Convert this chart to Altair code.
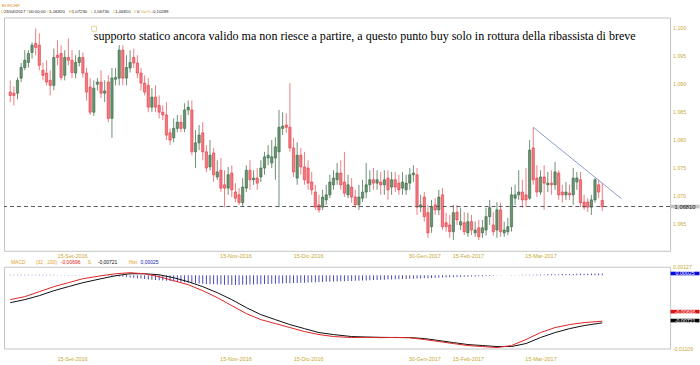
import altair as alt
import pandas as pd

# ---------------- data ----------------
opens = [1.0886,1.0884,1.0884,1.0911,1.0930,1.0939,1.0957,1.0973,1.0970,1.0925,
         1.0920,1.0907,1.0898,1.0952,1.0955,1.0916,1.0948,1.0943,1.0920,1.0939,
         1.0948,1.0920,1.0895,1.0850,1.0900,1.0904,1.0884,1.0904,1.0839,1.0909,
         1.0911,1.0961,1.0911,1.0929,1.0948,1.0938,1.0920,1.0902,1.0898,1.0859,
         1.0877,1.0862,1.0850,1.0845,1.0813,1.0804,1.0821,1.0832,1.0821,1.0854,
         1.0854,1.0779,1.0795,1.0813,1.0779,1.0752,1.0777,1.0734,1.0746,1.0720,
         1.0714,1.0741,1.0707,1.0702,1.0688,1.0714,1.0746,1.0729,1.0732,1.0734,
         1.0750,1.0768,1.0759,1.0768,1.0779,1.0821,1.0827,1.0823,1.0786,1.0732,
         1.0773,1.0752,1.0750,1.0725,1.0707,1.0684,1.0680,1.0693,1.0702,1.0720,
         1.0729,1.0741,1.0725,1.0702,1.0716,1.0698,1.0684,1.0696,1.0707,1.0720,
         1.0729,1.0723,1.0725,1.0720,1.0732,1.0716,1.0729,1.0723,1.0714,1.0711,
         1.0723,1.0738,1.0738,1.0680,1.0698,1.0670,1.0645,1.0684,1.0675,1.0702,
         1.0652,1.0648,1.0636,1.0671,1.0648,1.0652,1.0634,1.0654,1.0634,1.0643,
         1.0634,1.0639,1.0663,1.0648,1.0639,1.0675,1.0634,1.0636,1.0645,1.0696,
         1.0702,1.0707,1.0702,1.0696,1.0786,1.0732,1.0707,1.0734,1.0720,1.0723,
         1.0720,1.0741,1.0707,1.0702,1.0705,1.0702,1.0725,1.0729,1.0689,1.0689,
         1.0680,1.0693,1.0720,1.0692]
highs = [1.0907,1.0896,1.0912,1.0938,1.0961,1.0961,1.0975,1.1000,1.0991,1.0939,
         1.0943,1.0925,1.0964,1.0979,1.0970,1.0961,1.0982,1.0961,1.0952,1.0961,
         1.0957,1.0929,1.0911,1.0907,1.0911,1.0925,1.0907,1.0916,1.0929,1.0929,
         1.0970,1.0970,1.0952,1.0961,1.0964,1.0952,1.0929,1.0916,1.0911,1.0893,
         1.0898,1.0880,1.0862,1.0868,1.0821,1.0839,1.0845,1.0845,1.0866,1.0871,
         1.0871,1.0818,1.0827,1.0832,1.0791,1.0800,1.0786,1.0764,1.0768,1.0746,
         1.0752,1.0755,1.0723,1.0714,1.0732,1.0755,1.0764,1.0746,1.0750,1.0764,
         1.0779,1.0791,1.0800,1.0805,1.0854,1.0850,1.0848,1.0902,1.0804,1.0796,
         1.0786,1.0779,1.0764,1.0743,1.0720,1.0702,1.0711,1.0720,1.0738,1.0746,
         1.0759,1.0764,1.0779,1.0738,1.0732,1.0711,1.0720,1.0729,1.0759,1.0746,
         1.0750,1.0746,1.0743,1.0746,1.0746,1.0743,1.0743,1.0738,1.0743,1.0738,
         1.0750,1.0755,1.0750,1.0702,1.0707,1.0684,1.0693,1.0696,1.0711,1.0714,
         1.0670,1.0666,1.0684,1.0684,1.0679,1.0671,1.0670,1.0666,1.0654,1.0657,
         1.0657,1.0679,1.0693,1.0671,1.0689,1.0688,1.0654,1.0661,1.0716,1.0720,
         1.0746,1.0729,1.0750,1.0800,1.0823,1.0755,1.0746,1.0755,1.0743,1.0746,
         1.0761,1.0746,1.0720,1.0725,1.0720,1.0750,1.0743,1.0743,1.0702,1.0696,
         1.0702,1.0732,1.0729,1.0723]
lows = [1.0868,1.0862,1.0873,1.0904,1.0925,1.0930,1.0946,1.0952,1.0925,1.0907,
        1.0898,1.0880,1.0889,1.0934,1.0907,1.0907,1.0934,1.0911,1.0911,1.0932,
        1.0912,1.0871,1.0845,1.0843,1.0889,1.0875,1.0868,1.0832,1.0804,1.0898,
        1.0898,1.0898,1.0898,1.0921,1.0929,1.0911,1.0889,1.0880,1.0850,1.0850,
        1.0850,1.0839,1.0836,1.0800,1.0791,1.0796,1.0814,1.0814,1.0814,1.0845,
        1.0773,1.0750,1.0782,1.0764,1.0743,1.0746,1.0725,1.0729,1.0707,1.0680,
        1.0702,1.0698,1.0689,1.0684,1.0682,1.0707,1.0711,1.0720,1.0711,1.0725,
        1.0738,1.0755,1.0750,1.0729,1.0680,1.0809,1.0813,1.0779,1.0734,1.0720,
        1.0738,1.0720,1.0711,1.0702,1.0675,1.0670,1.0675,1.0684,1.0696,1.0711,
        1.0720,1.0711,1.0698,1.0696,1.0688,1.0679,1.0675,1.0689,1.0696,1.0707,
        1.0711,1.0711,1.0702,1.0702,1.0693,1.0702,1.0707,1.0702,1.0702,1.0702,
        1.0711,1.0725,1.0666,1.0671,1.0654,1.0625,1.0634,1.0666,1.0666,1.0639,
        1.0636,1.0625,1.0621,1.0648,1.0639,1.0630,1.0627,1.0630,1.0627,1.0621,
        1.0625,1.0629,1.0648,1.0629,1.0625,1.0627,1.0627,1.0630,1.0636,1.0684,
        1.0693,1.0679,1.0680,1.0693,1.0720,1.0698,1.0702,1.0675,1.0707,1.0702,
        1.0711,1.0693,1.0688,1.0693,1.0693,1.0684,1.0711,1.0680,1.0675,1.0671,
        1.0666,1.0688,1.0696,1.0673]
closes = [1.0880,1.0880,1.0907,1.0930,1.0943,1.0955,1.0970,1.0966,1.0934,1.0916,
          1.0904,1.0898,1.0948,1.0948,1.0912,1.0948,1.0943,1.0921,1.0939,1.0948,
          1.0920,1.0886,1.0850,1.0893,1.0904,1.0884,1.0888,1.0839,1.0911,1.0912,
          1.0961,1.0911,1.0930,1.0939,1.0938,1.0920,1.0902,1.0886,1.0859,1.0877,
          1.0859,1.0850,1.0845,1.0809,1.0800,1.0821,1.0832,1.0821,1.0854,1.0859,
          1.0779,1.0795,1.0809,1.0779,1.0750,1.0773,1.0738,1.0743,1.0714,1.0714,
          1.0738,1.0711,1.0696,1.0688,1.0716,1.0746,1.0729,1.0732,1.0723,1.0750,
          1.0770,1.0773,1.0770,1.0788,1.0823,1.0825,1.0823,1.0786,1.0743,1.0773,
          1.0752,1.0729,1.0723,1.0711,1.0680,1.0675,1.0698,1.0702,1.0725,1.0732,
          1.0741,1.0720,1.0705,1.0720,1.0698,1.0684,1.0698,1.0707,1.0720,1.0729,
          1.0723,1.0729,1.0720,1.0729,1.0711,1.0729,1.0716,1.0711,1.0725,1.0723,
          1.0738,1.0741,1.0680,1.0684,1.0663,1.0634,1.0680,1.0675,1.0698,1.0645,
          1.0645,1.0636,1.0670,1.0657,1.0654,1.0636,1.0654,1.0639,1.0639,1.0627,
          1.0643,1.0663,1.0679,1.0636,1.0675,1.0636,1.0639,1.0645,1.0702,1.0702,
          1.0707,1.0693,1.0693,1.0782,1.0729,1.0707,1.0734,1.0723,1.0723,1.0720,
          1.0743,1.0702,1.0702,1.0707,1.0702,1.0732,1.0732,1.0688,1.0680,1.0680,
          1.0693,1.0729,1.0707,1.0681]

tick_idx = [17, 62, 82, 114, 126, 146]
tick_labels = ["15-Set-2016", "15-Nov-2016", "15-Dic-2016",
               "30-Gen-2017", "15-Feb-2017", "15-Mar-2017"]
price_ticks = [1.065, 1.070, 1.075, 1.080, 1.085, 1.090, 1.095, 1.100]
last_close = 1.0681

trend_idx = [144, 168.3]
trend_price = [1.0823, 1.0695]

macd_idx = [0, 4, 8, 12, 16, 20, 25, 29, 33, 37, 41, 45, 49, 53, 57, 61, 65, 69, 73, 77,
            81, 85, 89, 94, 98, 102, 106, 110, 114, 118, 122, 126, 130, 134, 138, 142,
            146, 150, 154, 158, 163]
macd_vals = [-0.00370, -0.00325, -0.00250, -0.00174, -0.00114, -0.00054, -0.00009, 0.00021,
             0.00037, 0.00021, -0.00024, -0.00084, -0.00144, -0.00235, -0.00340, -0.00461,
             -0.00581, -0.00672, -0.00732, -0.00792, -0.00853, -0.00898, -0.00928, -0.00943,
             -0.00940, -0.00945, -0.00941, -0.00946, -0.00973, -0.01004, -0.01034, -0.01064,
             -0.01079, -0.01094, -0.01064, -0.00973, -0.00868, -0.00792, -0.00747, -0.00717,
             -0.00696]
signal_vals = [-0.00416, -0.00370, -0.00310, -0.00235, -0.00174, -0.00114, -0.00054, -0.00009,
               0.00021, 0.00021, 0.00006, -0.00039, -0.00099, -0.00174, -0.00265, -0.00370,
               -0.00491, -0.00597, -0.00672, -0.00747, -0.00808, -0.00868, -0.00898, -0.00928,
               -0.00935, -0.00940, -0.00943, -0.00944, -0.00958, -0.00988, -0.01019, -0.01049,
               -0.01064, -0.01079, -0.01079, -0.01034, -0.00943, -0.00868, -0.00808, -0.00762,
               -0.00721]
hist_vals = [0.00006, 0.00006, 0.00007, 0.00007, 0.00008, 0.00008, 0.00008, 0.00007, 0.00007, 0.00006,
             0.00006, 0.00005, 0.00005, 0.00004, 0.00004, 0.00003, 0.00003, 0.00002, 0.00002, 0.00001,
             0.00001, 0.00000, 0.00000, -0.00001, -0.00002, -0.00003, -0.00005, -0.00008, -0.00012, -0.00016,
             -0.00020, -0.00025, -0.00030, -0.00035, -0.00040, -0.00046, -0.00052, -0.00058, -0.00064, -0.00070,
             -0.00072, -0.00076, -0.00080, -0.00084, -0.00088, -0.00093, -0.00098, -0.00103, -0.00108, -0.00113,
             -0.00118, -0.00122, -0.00126, -0.00130, -0.00133, -0.00136, -0.00139, -0.00141, -0.00143, -0.00145,
             -0.00146, -0.00147, -0.00147, -0.00147, -0.00146, -0.00145, -0.00143, -0.00141, -0.00139, -0.00137,
             -0.00135, -0.00133, -0.00131, -0.00129, -0.00127, -0.00125, -0.00123, -0.00121, -0.00119, -0.00117,
             -0.00115, -0.00113, -0.00111, -0.00109, -0.00107, -0.00105, -0.00103, -0.00101, -0.00099, -0.00097,
             -0.00095, -0.00093, -0.00091, -0.00089, -0.00087, -0.00085, -0.00083, -0.00081, -0.00079, -0.00077,
             -0.00075, -0.00073, -0.00071, -0.00069, -0.00067, -0.00065, -0.00063, -0.00061, -0.00059, -0.00057,
             -0.00055, -0.00053, -0.00051, -0.00049, -0.00047, -0.00045, -0.00043, -0.00041, -0.00039, -0.00037,
             -0.00035, -0.00033, -0.00031, -0.00029, -0.00027, -0.00025, -0.00023, -0.00021, -0.00019, -0.00017,
             -0.00015, -0.00013, -0.00011, -0.00009, -0.00007, -0.00005, -0.00003, -0.00001, 0.00001, 0.00003,
             0.00004, 0.00005, 0.00006, 0.00007, 0.00008, 0.00009, 0.00010, 0.00011, 0.00012, 0.00013,
             0.00014, 0.00015, 0.00016, 0.00017, 0.00018, 0.00019, 0.00020, 0.00021, 0.00022, 0.00023,
             0.00024, 0.00024, 0.00025, 0.00025]
macd_last, signal_last, hist_last = -0.00696, -0.00721, 0.00025
macd_top, macd_bottom = 0.00127, -0.01109

note = ("supporto statico ancora valido ma non riesce a partire, a questo punto buy "
        "solo in rottura della ribassista di breve")

# ---------------- layout constants ----------------
W, H1, H2 = 668, 234, 82
XDOM = [-0.35, 180.3]
AXC = "#c9a832"
SANS = "Liberation Sans"

n = len(opens)
df = pd.DataFrame({"i": list(range(n)), "open": opens, "high": highs,
                   "low": lows, "close": closes})
df["dir"] = ["up" if c >= o else "down" for o, c in zip(opens, closes)]

expr = "''"
for t, l in reversed(list(zip(tick_idx, tick_labels))):
    expr = f"datum.value == {t} ? '{l}' : ({expr})"

xscale = alt.Scale(domain=XDOM, nice=False, zero=False)


def xaxis(pad):
    return alt.Axis(values=tick_idx, labelExpr=expr, ticks=False, domain=False,
                    grid=False, labelFontSize=5.5, labelColor=AXC, labelFont=SANS,
                    labelPadding=pad, labelOverlap=False, labelFlush=False, title=None)


yscale = alt.Scale(domain=[1.06018, 1.10196], nice=False, zero=False)

cscale = alt.Scale(domain=["up", "down"], range=["#2f6a3a", "#e8343e"])
wscale = alt.Scale(domain=["up", "down"], range=["#6f9077", "#ee7d84"])

base = alt.Chart(df)
wicks = base.mark_rule(strokeWidth=1).encode(
    x=alt.X("i:Q", scale=xscale, axis=xaxis(3)),
    y=alt.Y("low:Q", scale=yscale, axis=None),
    y2="high:Q",
    color=alt.Color("dir:N", scale=wscale, legend=None),
)
bodies = base.mark_bar(size=2.3, strokeWidth=0.6).encode(
    x="i:Q", y="open:Q", y2="close:Q",
    color=alt.Color("dir:N", scale=cscale, legend=None),
    stroke=alt.Stroke("dir:N", scale=cscale, legend=None),
)

# right-hand price labels
plab = pd.DataFrame({"v": price_ticks,
                     "t": [f"{v:.3f}".replace(".", ",") for v in price_ticks]})
plabels = alt.Chart(plab).mark_text(align="left", baseline="middle", fontSize=5.2,
                                    font=SANS, color=AXC).encode(
    x=alt.value(W + 3), y="v:Q", text="t:N")

dash = alt.Chart(pd.DataFrame({"v": [last_close]})).mark_rule(
    color="#5a5a5a", strokeDash=[4, 3], strokeWidth=1.1).encode(y="v:Q")

trend = alt.Chart(pd.DataFrame({"i": trend_idx, "p": trend_price})).mark_line(
    color="#8b9bd2", strokeWidth=1).encode(x="i:Q", y="p:Q")

RECT = "M-1,-0.125L1,-0.125L1,0.125L-1,0.125Z"
one = pd.DataFrame({"v": [last_close], "t": ["1,06810"]})
lbox = alt.Chart(one).mark_point(shape=RECT, filled=True, fill="#c4c4c4",
                                 opacity=1, size=841, strokeWidth=0).encode(
    x=alt.value(W + 15), y="v:Q")
ltxt = alt.Chart(one).mark_text(fontSize=5.8, font=SANS, color="#111").encode(
    x=alt.value(W + 15), y="v:Q", text="t:N")

note_t = alt.Chart(pd.DataFrame({"t": [note]})).mark_text(
    align="left", baseline="alphabetic", font="Liberation Serif", fontSize=12.1,
    color="#000").encode(x=alt.value(90), y=alt.value(23), text="t:N")
sq = alt.Chart(pd.DataFrame({"a": [0]})).mark_square(
    filled=False, stroke="#dcc878", strokeWidth=1, size=25).encode(
    x=alt.value(90.3), y=alt.value(11.3))

# header pieces: (text, colour, x, y) in plot pixels
LET = "#e0a52a"
header = [("EURCHF", "#e08a10", -2, -12),
          ("D", LET, -3, -5), ("23/04/2017", "#222", 0, -5),
          ("T", LET, 22.5, -5), ("00:00:00", "#222", 25, -5),
          ("O", LET, 43, -5), ("1,06920", "#222", 45.5, -5),
          ("H", LET, 65, -5), ("1,07230", "#222", 68, -5),
          ("L", LET, 87, -5), ("1,06730", "#222", 90, -5),
          ("C", LET, 109, -5), ("1,06810", "#222", 111.5, -5),
          ("V", LET, 130, -5), ("0", "#222", 133.5, -5),
          ("Var%", LET, 137, -5), ("-0,10289", "#222", 148, -5)]
hdr_layers = []
for t, c, x, y in header:
    hdr_layers.append(alt.Chart(pd.DataFrame({"t": [t]})).mark_text(
        align="left", baseline="middle", fontSize=4.3, font=SANS, color=c).encode(
        x=alt.value(x), y=alt.value(y), text="t:N"))

main = alt.layer(wicks, bodies, dash, trend, plabels, lbox, ltxt, note_t, sq,
                 *hdr_layers).properties(width=W, height=H1)

# ---------------- MACD ----------------
mh = pd.DataFrame({"i": list(range(n)), "h": hist_vals})
mm = pd.DataFrame({"i": macd_idx, "m": macd_vals, "s": signal_vals})
myscale = alt.Scale(domain=[macd_bottom, macd_top], nice=False, zero=False)

hist = alt.Chart(mh).mark_bar(size=0.9, color="#3838b0").encode(
    x=alt.X("i:Q", scale=xscale, axis=xaxis(8)),
    y=alt.Y("h:Q", scale=myscale, axis=None),
    y2=alt.datum(0),
)
mline = alt.Chart(mm).mark_line(color="#e02424", strokeWidth=1).encode(x="i:Q", y="m:Q")
sline = alt.Chart(mm).mark_line(color="#101010", strokeWidth=1).encode(x="i:Q", y="s:Q")

mlab = pd.DataFrame({"v": [macd_top, macd_bottom],
                     "t": [f"{v:.5f}".replace(".", ",") for v in [macd_top, macd_bottom]]})
mlabels = alt.Chart(mlab).mark_text(align="left", baseline="middle", fontSize=5.2,
                                    font=SANS, color=AXC).encode(
    x=alt.value(W + 3), y="v:Q", text="t:N")

boxes = pd.DataFrame({"v": [hist_last, macd_last, signal_last],
                      "t": ["0,00025", "-0,00696", "-0,00721"]})
box_layers = []
for k, (fill, off) in enumerate([("#0a0ae0", 0), ("#e01010", -9.6), ("#050505", -2.3)]):
    sub = boxes.iloc[[k]]
    box_layers.append(alt.Chart(sub).mark_point(
        shape=RECT, filled=True, fill=fill, opacity=1, size=841, strokeWidth=0,
        yOffset=off).encode(x=alt.value(W + 15), y="v:Q"))
    box_layers.append(alt.Chart(sub).mark_text(
        fontSize=5.3, font=SANS, color="#fff", yOffset=off).encode(
        x=alt.value(W + 15), y="v:Q", text="t:N"))

legend = [("MACD", LET, 7), ("(32 ; 200)", LET, 32), ("-0,00696", "#e01818", 57),
          ("S", LET, 84), ("-0,00721", "#111", 94), ("Hist", LET, 125),
          ("0,00025", "#2020b0", 137)]
leg_layers = []
for t, c, x in legend:
    leg_layers.append(alt.Chart(pd.DataFrame({"t": [t]})).mark_text(
        align="left", baseline="middle", fontSize=5, font=SANS, color=c).encode(
        x=alt.value(x), y=alt.value(-5), text="t:N"))

macd = alt.layer(hist, sline, mline, mlabels, *box_layers, *leg_layers).properties(
    width=W, height=H2)

chart = alt.vconcat(main, macd, spacing=16, bounds="flush").properties(
    padding={"left": 0, "top": 2, "right": 0, "bottom": 0},
    background="white",
).configure_view(stroke="#c4c4c4", strokeWidth=1)

chart.save("out.html", embed_options={"renderer": "svg", "actions": False})
